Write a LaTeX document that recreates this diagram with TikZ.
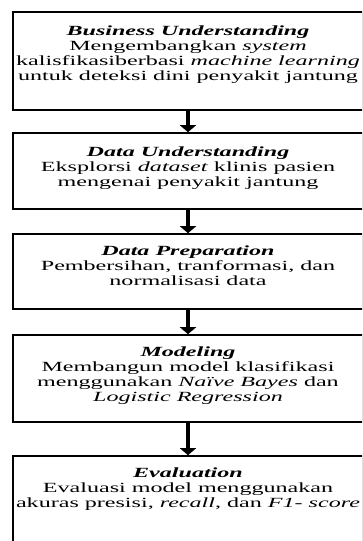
\documentclass[tikz,border=0pt]{standalone}
\usepackage{fontspec}
\setmainfont[FakeStretch=1.72]{Liberation Serif}
\usetikzlibrary{arrows.meta}
\begin{document}
\begin{tikzpicture}[x=1pt,y=-1pt,
  box/.style={draw=black, line width=1.6pt, rectangle, inner sep=0pt, minimum width=350pt},
  txt/.style={anchor=north, align=center, inner sep=0pt, font=\fontsize{14}{15}\selectfont},
  flow/.style={line width=4pt, -{Triangle[width=16pt,length=7pt]}}]
\useasboundingbox (0,0) rectangle (362,541);
\clip (0,0) rectangle (362,541);
% boxes
\node[box, minimum height=98pt] (b1) at (188,61) {};
\node[box, minimum height=76pt] (b2) at (188,171) {};
\node[box, minimum height=75pt] (b3) at (188,271.5) {};
\node[box, minimum height=87pt] (b4) at (188,378.5) {};
\node[box, minimum height=114pt] (b5) at (188,513) {};
% texts
\node[txt] (t1) at (188,25.5) {\textbf{\textit{Business Understanding}}\\
  Mengembangkan \textit{system}\\
  kalisfikasiberbasi \textit{machine learning}\\
  untuk deteksi dini penyakit jantung};
\node[txt] (t2) at (188,147) {\textbf{\textit{Data Understanding}}\\
  Eksplorsi \textit{dataset} klinis pasien\\
  mengenai penyakit jantung};
\node[txt] (t3) at (188,245.5) {\textbf{\textit{Data Preparation}}\\
  Pembersihan, tranformasi, dan\\
  normalisasi data};
\node[txt] (t4) at (188,346.5) {\textbf{\textit{Modeling}}\\
  Membangun model klasifikasi\\
  menggunakan \textit{Naïve Bayes} dan\\
  \textit{Logistic Regression}};
\node[txt] (t5) at (188,467.5) {\textbf{\textit{Evaluation}}\\
  Evaluasi model menggunakan\\
  akuras presisi, \textit{recall}, dan \textit{F1- score}};
% arrows
\draw[flow] (b1) -- (b2);
\draw[flow] (b2) -- (b3);
\draw[flow] (b3) -- (b4);
\draw[flow] (b4) -- (b5);
\end{tikzpicture}
\end{document}
